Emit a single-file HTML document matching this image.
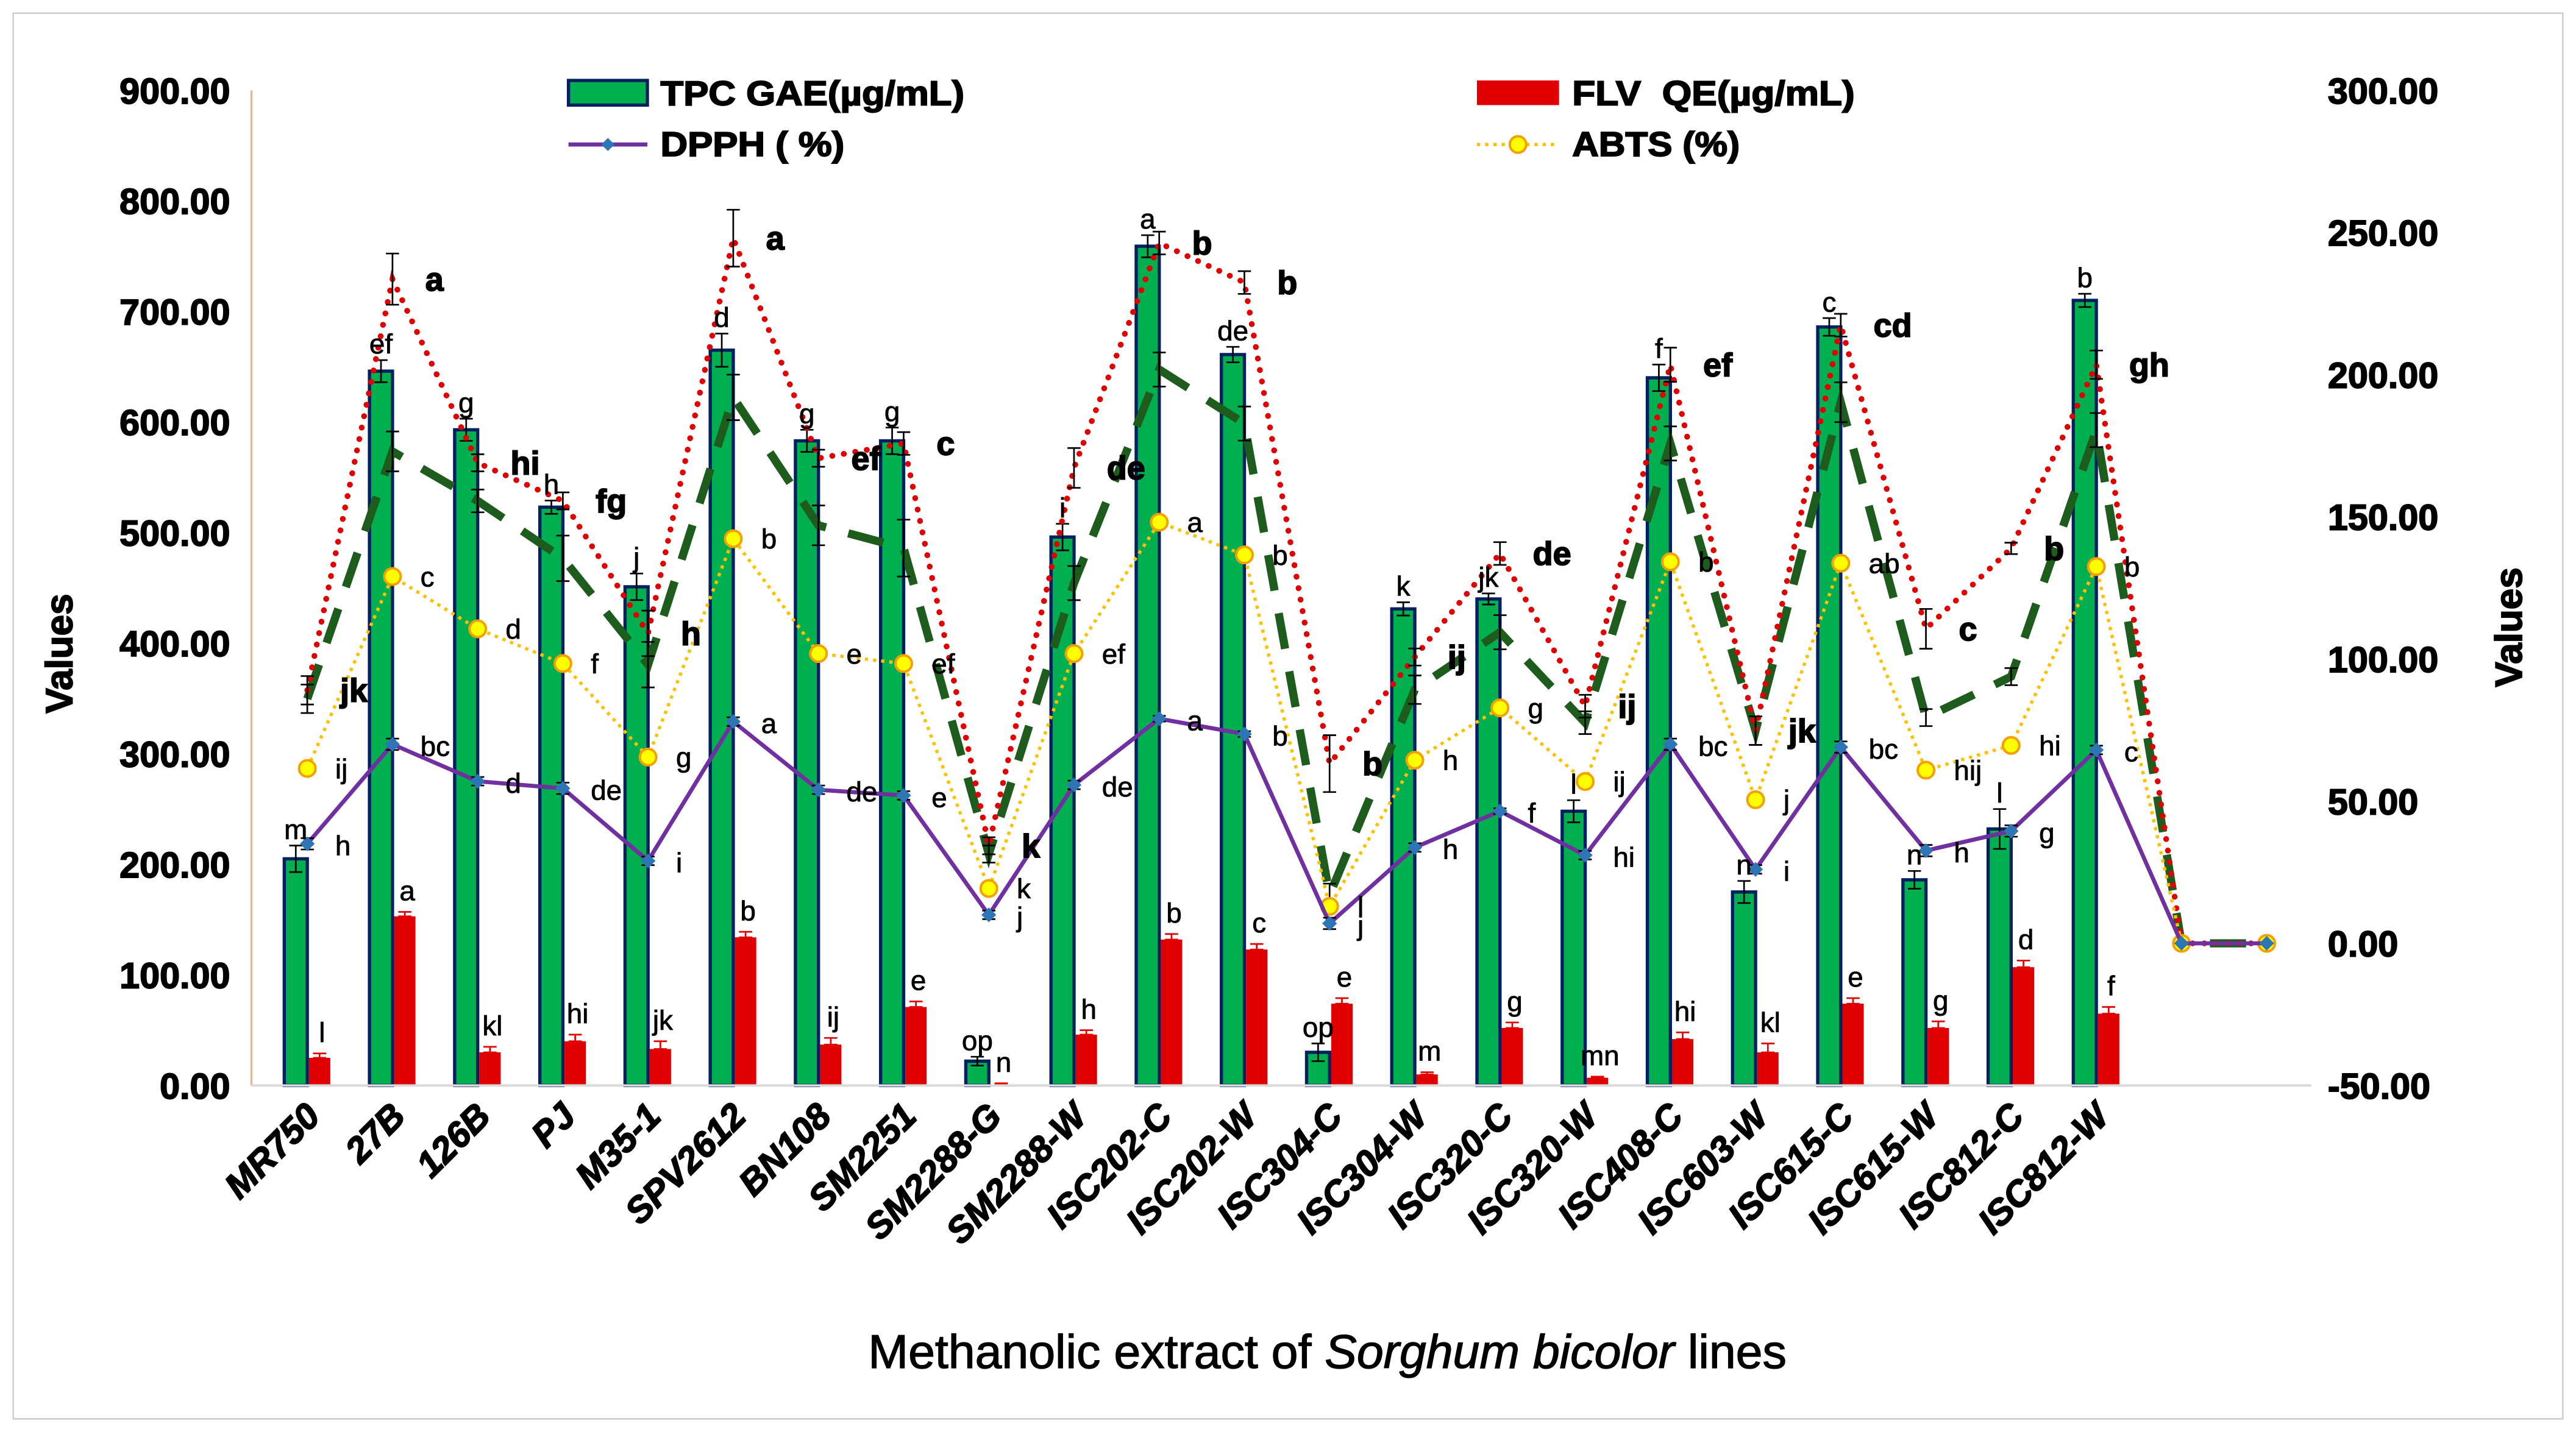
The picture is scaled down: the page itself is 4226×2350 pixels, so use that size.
<!DOCTYPE html>
<html><head><meta charset="utf-8"><style>
html,body{margin:0;padding:0;background:#fff}
svg{display:block}
text{font-family:"Liberation Sans",Arial,sans-serif}
.heavy{font-weight:bold;stroke:#000;stroke-width:0.7;paint-order:stroke}
</style></head><body>
<svg id="chart" width="4226" height="2350" viewBox="0 0 1568 872" xmlns="http://www.w3.org/2000/svg">
<rect x="8" y="8" width="1552" height="856" fill="#fff" stroke="#d0d0d0" stroke-width="1"/>
<g id="grid"></g>
<g id="bars"></g>
<g id="lines"></g>
<g id="labels"></g>
<g id="axes"></g>
<g>
 <rect x="346" y="49" width="48" height="15" fill="#00b050" stroke="#002060" stroke-width="2"/>
 <text class="heavy" x="402" y="64" font-size="21" textLength="185" lengthAdjust="spacingAndGlyphs">TPC GAE(µg/mL)</text>
 <rect x="899" y="49" width="50" height="15" fill="#e00000"/>
 <text class="heavy" x="957" y="64" font-size="21" xml:space="preserve" textLength="172" lengthAdjust="spacingAndGlyphs">FLV  QE(µg/mL)</text>
 <line x1="346" y1="88" x2="394" y2="88" stroke="#7030a0" stroke-width="2.5"/>
 <path d="M370 84 L374 88 L370 92 L366 88 Z" fill="#2e75b6"/>
 <text class="heavy" x="402" y="95" font-size="21" textLength="112" lengthAdjust="spacingAndGlyphs">DPPH ( %)</text>
 <line x1="899" y1="88" x2="949" y2="88" stroke="#ffc000" stroke-width="2" stroke-dasharray="2,3"/>
 <circle cx="924" cy="88" r="5" fill="#ffff00" stroke="#f4a000" stroke-width="1.5"/>
 <text class="heavy" x="957" y="95" font-size="21" textLength="102" lengthAdjust="spacingAndGlyphs">ABTS (%)</text>
</g>
<text class="heavy" transform="translate(44,398) rotate(-90)" text-anchor="middle" font-size="23">Values</text>
<text class="heavy" transform="translate(1535,382) rotate(-90)" text-anchor="middle" font-size="23">Values</text>
<text x="808" y="833" text-anchor="middle" font-size="29" stroke="#000" stroke-width="0.5" textLength="559" lengthAdjust="spacingAndGlyphs">Methanolic extract of <tspan font-style="italic">Sorghum bicolor</tspan> lines</text>
</svg>
<script>
const categories=["MR750","27B","126B","PJ","M35-1","SPV2612","BN108","SM2251","SM2288-G","SM2288-W","ISC202-C","ISC202-W","ISC304-C","ISC304-W","ISC320-C","ISC320-W","ISC408-C","ISC603-W","ISC615-C","ISC615-W","ISC812-C","ISC812-W","",""];
const tpc=[205,646,593,523,451,665,583,583,22,496,759,661,30,431,440,248,640,175,686,186,232,710];
const tpcErr=[12,10,10,6,12,15,10,12,4,12,10,7,8,6,5,10,12,10,8,8,18,6];
const tpcLetters=["m","ef","g","h","j","d","g","g","op","i","a","de","op","k","jk","l","f","n","c","n","l","b"];
const flv=[25,153,30,40,33,134,37,71,1,46,132,123,74,10,52,7,42,30,74,52,107,65];
const flvErr=[4,4,5,6,7,5,6,5,1,4,5,5,5,2,5,1,6,8,5,6,6,6];
const flvLetters=["l","a","kl","hi","jk","b","ij","e","n","h","b","c","e","m","g","mn","hi","kl","e","g","d","f"];
const dpph=[35,70,57,54.5,29,78,54,52,10,55.7,79,73.6,7,33.7,46.5,31,70,26,69,32.6,39.5,68,0,0];
const dpphErr=[2,2,1.5,2,1.5,1.5,1.5,1.5,1.5,1.5,1,1,2,1.5,1,1.5,2,1.5,2,2,2,1.5,0,0];
const dpphLetters=["h","bc","d","de","i","a","de","e","j","de","a","b","j","h","f","hi","bc","i","bc","h","g","c"];
const abts=[61.5,129,110.6,98.4,65.5,142.3,101.9,98.4,19.3,101.9,148.1,136.6,13,64.4,82.8,56.9,134.2,50.5,133.7,60.9,69.6,132.5,0,0];
const abtsErr=[1,1,1,1,1.5,1,1,1,1,1,1,1,2,1.5,1,2,1,1.5,1,1,1,1,0,0];
const abtsLetters=["ij","c","d","f","g","b","e","ef","k","ef","a","b","l","h","g","ij","b","j","ab","hij","hi","b"];
const redDot=[89,233.6,169,155.6,109,248,170.6,175.8,34.3,167.2,246.3,232.4,63.2,100.7,137.1,83.4,203.5,74.8,217.4,110.6,138.9,203.5,0,0];
const redErr=[5,9,3,3,8,10,3,4,3,7,4,4,10,3,4,4,6,5,4,7,2,5,0,0];
const redLetters=["jk","a","hi","fg","h","a","ef","c","k","de","b","b","b","ij","de","ij","ef","jk","cd","c","b","gh"];
const greenDash=[86,173,155.6,135.4,98,192,147,139,31.4,126.7,201.8,182.8,17,89.2,109.4,77.6,175.8,74.8,190.3,79.4,93.8,180.5,0,0];
const greenErr=[5,7,4,8,8,8,7,10,3,6,6,6,4,5,6,4,6,5,7,3,3,6,0,0];
const leftTicks=["0.00","100.00","200.00","300.00","400.00","500.00","600.00","700.00","800.00","900.00"];
const rightTicks=["-50.00","0.00","50.00","100.00","150.00","200.00","250.00","300.00"];

const NS="http://www.w3.org/2000/svg";
const X0=187, STEP=51.86, YTOP=55, YBOT=661;
function xc(i){return X0+i*STEP;}
function yl(v){return YBOT-(v/900)*(YBOT-YTOP);}
function yr(v){return YBOT-((v+50)/350)*(YBOT-YTOP);}
function mk(tag,attrs,parent,txt){const e=document.createElementNS(NS,tag);for(const k in attrs)e.setAttribute(k,attrs[k]);if(txt!==undefined)e.textContent=txt;parent.appendChild(e);return e;}
const gBars=document.getElementById('bars'),gLines=document.getElementById('lines'),gLab=document.getElementById('labels'),gAx=document.getElementById('axes');

let a=mk('line',{x1:153,y1:YTOP,x2:153,y2:YBOT,stroke:'#f4b183','stroke-width':1.2},gAx);


a=mk('line',{x1:153,y1:YBOT,x2:1407,y2:YBOT,stroke:'#d9d9d9','stroke-width':1.5},gAx);


leftTicks.forEach((t,i)=>{const e=mk('text',{class:'heavy',x:140,y:yl(parseFloat(t))+8,'text-anchor':'end','font-size':22},gAx,t);

});
rightTicks.forEach((t,i)=>{const e=mk('text',{class:'heavy',x:1417,y:yr(parseFloat(t))+8,'font-size':22},gAx,t);

});
categories.forEach((c,i)=>{if(!c)return;const x=xc(i)+9,y=681;
const e=mk('text',{class:'heavy',x:x,y:y,'text-anchor':'end','font-size':22,'font-style':'italic',transform:`rotate(-45 ${x} ${y})`},gAx,c);

});

function errbar(x,y1,y2,col,parent){const w=4;
mk('line',{x1:x,y1:y1,x2:x,y2:y2,stroke:col,'stroke-width':1},parent);
mk('line',{x1:x-w,y1:y1,x2:x+w,y2:y1,stroke:col,'stroke-width':1},parent);
mk('line',{x1:x-w,y1:y2,x2:x+w,y2:y2,stroke:col,'stroke-width':1},parent);}

tpc.forEach((v,i)=>{const x=xc(i)-14,y=yl(v);
const r=mk('rect',{x:x,y:y,width:14,height:YBOT-y,fill:'#00b050',stroke:'#002060','stroke-width':2},gBars);


errbar(x+7,yl(v+tpcErr[i]),yl(v-tpcErr[i]),'#000',gBars);
const t=mk('text',{x:x+7,y:yl(v+tpcErr[i])-4,'text-anchor':'middle','font-size':17,stroke:'#000','stroke-width':0.3},gLab,tpcLetters[i]);

});
flv.forEach((v,i)=>{const x=xc(i)+1,y=yl(v);
const r=mk('rect',{x:x,y:y,width:13,height:YBOT-y,fill:'#e00000'},gBars);


errbar(x+6.5,yl(v+flvErr[i]),y,'#e00000',gBars);
const t=mk('text',{x:x+8,y:yl(v+flvErr[i])-7,'text-anchor':'middle','font-size':17,stroke:'#000','stroke-width':0.3},gLab,flvLetters[i]);

});

function pts(arr){return arr.map((v,i)=>xc(i)+','+yr(v)).join(' ');}
let p=mk('polyline',{points:pts(greenDash),fill:'none',stroke:'#1e5c1e','stroke-width':5,'stroke-dasharray':'22,14'},gLines);


greenDash.forEach((v,i)=>{if(greenErr[i])errbar(xc(i),yr(v+greenErr[i]),yr(v-greenErr[i]),'#000',gLines);});
p=mk('polyline',{points:pts(redDot),fill:'none',stroke:'#e00000','stroke-width':3.5,'stroke-dasharray':'0.1,7','stroke-linecap':'round'},gLines);


redDot.forEach((v,i)=>{if(redErr[i])errbar(xc(i),yr(v+redErr[i]),yr(v-redErr[i]),'#000',gLines);
if(redLetters[i]){const t=mk('text',{class:'heavy',x:xc(i)+20,y:yr(v)+7,'font-size':20},gLab,redLetters[i]);

}});
p=mk('polyline',{points:pts(abts),fill:'none',stroke:'#ffc000','stroke-width':2,'stroke-dasharray':'2,3'},gLines);


abts.forEach((v,i)=>{if(abtsErr[i])errbar(xc(i),yr(v+abtsErr[i]),yr(v-abtsErr[i]),'#000',gLines);
const c=mk('circle',{cx:xc(i),cy:yr(v),r:5,fill:'#ffff00',stroke:'#f4a000','stroke-width':1.5},gLines);


if(abtsLetters[i]){const t=mk('text',{x:xc(i)+17,y:yr(v)+6,'font-size':17,stroke:'#000','stroke-width':0.3},gLab,abtsLetters[i]);

}});
p=mk('polyline',{points:pts(dpph),fill:'none',stroke:'#7030a0','stroke-width':2.5},gLines);


dpph.forEach((v,i)=>{const x=xc(i),y=yr(v);if(dpphErr[i])errbar(x,yr(v+dpphErr[i]),yr(v-dpphErr[i]),'#000',gLines);
const d=mk('path',{d:`M${x} ${y-4.5} L${x+4.5} ${y} L${x} ${y+4.5} L${x-4.5} ${y} Z`,fill:'#2e75b6'},gLines);


if(dpphLetters[i]){const t=mk('text',{x:x+17,y:y+7,'font-size':17,stroke:'#000','stroke-width':0.3},gLab,dpphLetters[i]);

}});
</script>
</body></html>
